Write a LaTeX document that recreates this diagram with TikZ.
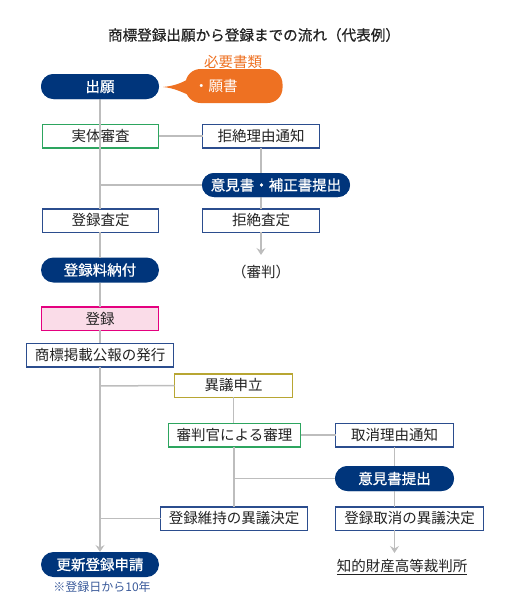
\documentclass[tikz,border=0pt]{standalone}
\usepackage{fontspec}
\setmainfont{Noto Sans CJK JP}
\newfontfamily\medfont{Noto Sans CJK JP}[FakeBold=0.7]
\usetikzlibrary{arrows.meta}
\definecolor{navy}{HTML}{00357B}
\definecolor{bblue}{HTML}{2B4D8E}
\definecolor{bgreen}{HTML}{2DA55F}
\definecolor{pinkfill}{HTML}{FADCE8}
\definecolor{pinkline}{HTML}{E4007F}
\definecolor{olive}{HTML}{B8A633}
\definecolor{orng}{HTML}{EE7122}
\definecolor{lgray}{HTML}{BDBDBD}
\definecolor{txt}{HTML}{222222}
\definecolor{notec}{HTML}{3A5A9A}
\tikzset{
  base/.style={inner sep=0pt, outer sep=0pt, minimum height=23.5pt, font=\fontsize{14.5}{17}\selectfont, text=txt},
  bbox/.style={base, draw=bblue, line width=1.5pt, fill=white},
  gbox/.style={base, draw=bgreen, line width=1.5pt, fill=white},
  obox/.style={base, draw=olive, line width=1.5pt, fill=white},
  pbox/.style={base, draw=pinkline, line width=1.5pt, fill=pinkfill},
  pill/.style={base, font=\fontsize{14.5}{17}\medfont, fill=navy, text=white, rounded corners=12.5pt, minimum height=25pt},
  conn/.style={draw=lgray, line width=1.5pt},
  arr/.style={conn, -{Stealth[length=7pt,width=9pt,inset=2.5pt]}, lgray},
}
\begin{document}
\begin{tikzpicture}[x=1pt,y=-1pt]
\useasboundingbox (0,0) rectangle (506,616);
% title
\node[base, font=\fontsize{14.6}{17}\medfont] (ttl) at (254,35) {商標登録出願から登録までの流れ（代表例）};
% left column
\node[pill, minimum width=118pt] (sg) at (100,86.5) {出願};
\node[gbox, minimum width=116pt] (jt) at (100.5,136) {実体審査};
\node[bbox, minimum width=116pt] (ts) at (100.5,220.5) {登録査定};
\node[pill, minimum width=118pt] (tr) at (100,270) {登録料納付};
\node[pbox, minimum width=117pt] (tk) at (100,318.5) {登録};
\node[bbox, minimum width=147pt] (kh) at (100,355) {商標掲載公報の発行};
\node[pill, minimum width=118pt] (ks) at (100,564.5) {更新登録申請};
\node[base, text=notec, font=\fontsize{12}{14}\selectfont] (nt) at (102,587) {※登録日から10年};
% callout
\node[base, fill=orng, rounded corners=15pt, minimum width=97pt, minimum height=34pt, text=white, text width=80pt, align=left] (co) at (234,86) {・願書};
\coordinate (tip) at (163,87);
\fill[orng] (tip) .. controls (174,86) and (182,83) .. (190,78) -- (193,97) .. controls (182,92) and (174,88) .. (tip) -- cycle;
\node[base, text=orng] (hy) at (233,62) {必要書類};
% right column (exam)
\node[bbox, minimum width=117pt] (kr) at (261,136) {拒絶理由通知};
\node[pill, minimum width=148pt, minimum height=24pt, rounded corners=12pt] (ih) at (276,185) {意見書・補正書提出};
\node[bbox, minimum width=117pt] (kz) at (261,220.5) {拒絶査定};
\node[base] (sp) at (261,272) {（審判）};
% opposition
\node[obox, minimum width=118pt] (ig) at (233.5,385.5) {異議申立};
\node[gbox, minimum width=132pt] (sr) at (234.5,435) {審判官による審理};
\node[bbox, minimum width=118pt] (tt) at (394.5,435) {取消理由通知};
\node[pill, minimum width=119pt] (ik) at (394.5,478.5) {意見書提出};
\node[bbox, minimum width=147pt] (ij) at (234,518.5) {登録維持の異議決定};
\node[bbox, minimum width=148pt] (tke) at (409.5,518.5) {登録取消の異議決定};
\node[base] (cz) at (402,567) {\underline{知的財産高等裁判所}};
% connectors
\coordinate (c1) at (100,185);
\coordinate (c2) at (100,386);
\coordinate (c3) at (234,478.5);
\coordinate (c4) at (100,518.5);
\coordinate (e1) at (261,255);
\coordinate (e2) at (394.5,553);
\path[conn] (sg.south) -- (jt.south -| sg.south);
\path[conn] (sg.south |- jt.south) -- (sg.south |- ts.north);
\path[conn] (sg.south |- ts.south) -- (tr.north);
\path[conn] (tr.south) -- (tk.north);
\path[conn] (tk.south) -- (kh.north);
\draw[arr] (kh.south) -- (ks.north);
\path[conn] (c1) -- (ih.west);
\path[conn] (c2) -- (ig.west);
\path[conn] (c4) -- (ij.west);
\path[conn] (jt.east) -- (kr.west);
\path[conn] (kr.south) -- (kz.north);
\draw[arr] (kz.south) -- (e1);
\path[conn] (ig.south) -- (ig.south |- sr.north);
\path[conn] (sr.south -| ij.north) -- (ij.north);
\path[conn] (sr.east) -- (tt.west);
\path[conn] (c3) -- (ik.west);
\path[conn] (tt.south) -- (ik.north);
\path[conn] (ik.south) -- (ik.south |- tke.north);
\draw[arr] (ik.south |- tke.south) -- (e2);
% redraw nodes on top of crossings
\node[pill, minimum width=118pt] at (100,86.5) {出願};
\node[pill, minimum width=148pt, minimum height=24pt, rounded corners=12pt] at (276,185) {意見書・補正書提出};
\node[pill, minimum width=119pt] at (394.5,478.5) {意見書提出};
\end{tikzpicture}
\end{document}
